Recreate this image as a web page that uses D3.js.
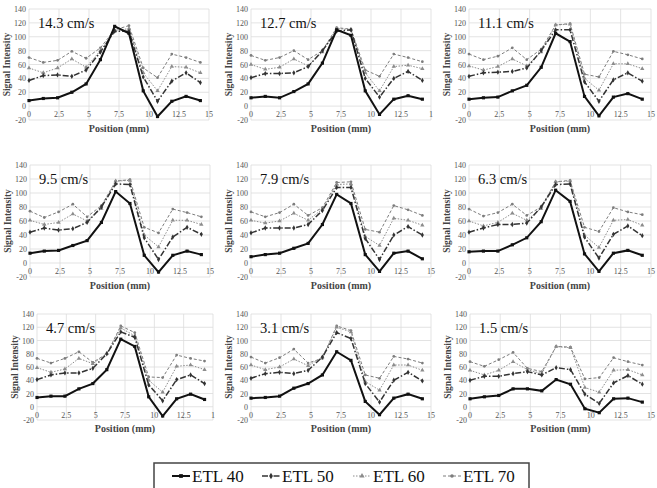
<!DOCTYPE html>
<html>
<head>
<meta charset="utf-8">
<script src="https://cdn.jsdelivr.net/npm/d3@7"></script>
<style>
  body { margin: 0; background: #fff; }
</style>
</head>
<body>
<svg id="chart" width="657" height="488" font-family="Liberation Serif, DejaVu Serif, serif"></svg>
<script>
// x positions (mm) of the 13 samples
var positions = [0, 1.19, 2.38, 3.57, 4.76, 5.95, 7.14, 8.33, 9.52, 10.71, 11.9, 13.09, 14.28];
var xTicks = [0, 2.5, 5, 7.5, 10, 12.5, 15];
var yTicks = [-20, 0, 20, 40, 60, 80, 100, 120, 140];
var seriesNames = ['ETL 40', 'ETL 50', 'ETL 60', 'ETL 70'];
var speeds = ['14.3 cm/s', '12.7 cm/s', '11.1 cm/s', '9.5 cm/s', '7.9 cm/s', '6.3 cm/s', '4.7 cm/s', '3.1 cm/s', '1.5 cm/s'];
var yTitles = ['Signal Intensity', 'Signal Intensity', 'Singal Intensity', 'Signal Intensity', 'Signal Intensity',
    'Signal Intensity', 'Signal Intensity', 'Signal Intensity', 'Signal Intensity'];

// one array per series, one row per panel
var etl40 = [
    [8, 11, 12, 20, 32, 67, 115, 105, 22, -15, 7, 14, 8],
    [12, 14, 12, 21, 32, 62, 110, 102, 22, -12, 10, 15, 10],
    [10, 12, 13, 22, 30, 56, 105, 93, 14, -14, 13, 18, 10],
    [14, 17, 18, 25, 32, 58, 102, 85, 11, -13, 11, 17, 12],
    [9, 12, 14, 21, 28, 55, 98, 85, 12, -12, 14, 17, 6],
    [16, 17, 17, 26, 36, 59, 104, 88, 13, -12, 14, 18, 11],
    [14, 16, 16, 27, 35, 56, 102, 91, 15, -14, 12, 19, 11],
    [13, 14, 16, 28, 35, 48, 83, 70, 8, -12, 13, 19, 12],
    [12, 15, 17, 27, 27, 24, 41, 34, -3, -9, 12, 13, 7]
];
var etl50 = [
    [37, 44, 45, 43, 52, 78, 108, 108, 42, 7, 36, 48, 34],
    [41, 47, 47, 48, 57, 80, 108, 110, 40, 13, 40, 50, 37],
    [43, 48, 49, 50, 55, 80, 110, 110, 35, 7, 38, 48, 36],
    [44, 50, 47, 49, 58, 80, 113, 112, 36, 5, 37, 51, 41],
    [43, 50, 50, 50, 55, 75, 108, 108, 35, 5, 40, 52, 40],
    [44, 50, 55, 55, 57, 80, 112, 113, 37, 7, 41, 53, 39],
    [41, 48, 51, 51, 58, 80, 113, 105, 33, 9, 41, 48, 35],
    [43, 50, 52, 50, 55, 75, 112, 103, 35, 7, 40, 52, 39],
    [40, 46, 46, 50, 53, 48, 59, 56, 19, 5, 36, 47, 34]
];
var etl60 = [
    [55, 48, 55, 68, 56, 80, 108, 112, 48, 22, 57, 56, 48],
    [60, 53, 56, 68, 58, 78, 112, 110, 48, 22, 57, 59, 54],
    [58, 52, 57, 68, 58, 78, 117, 118, 40, 23, 61, 61, 54],
    [61, 55, 58, 70, 60, 78, 117, 118, 40, 23, 61, 61, 55],
    [61, 57, 60, 71, 61, 77, 112, 113, 38, 25, 64, 61, 54],
    [60, 53, 58, 71, 61, 78, 116, 117, 40, 22, 61, 62, 54],
    [59, 52, 57, 73, 65, 80, 119, 107, 40, 22, 61, 63, 56],
    [63, 56, 60, 72, 62, 75, 120, 113, 38, 25, 63, 63, 55],
    [55, 48, 55, 68, 56, 50, 91, 89, 29, 22, 55, 56, 48]
];
var etl70 = [
    [70, 63, 66, 79, 69, 84, 110, 116, 55, 41, 75, 70, 63],
    [73, 66, 70, 80, 67, 80, 113, 111, 52, 43, 75, 70, 64],
    [75, 67, 72, 84, 67, 82, 117, 119, 46, 42, 79, 74, 68],
    [74, 65, 73, 84, 66, 82, 117, 119, 51, 43, 77, 72, 66],
    [73, 66, 72, 84, 68, 79, 115, 116, 48, 44, 82, 76, 68],
    [77, 67, 72, 84, 68, 80, 116, 118, 51, 45, 79, 73, 69],
    [73, 66, 73, 83, 67, 80, 122, 112, 45, 44, 78, 73, 69],
    [75, 66, 74, 87, 66, 73, 122, 115, 48, 43, 76, 72, 66],
    [68, 61, 71, 82, 58, 53, 91, 90, 42, 44, 74, 68, 63]
];
var seriesData = [etl40, etl50, etl60, etl70];

// plot-area frames for each panel [x0, x1, y0(top), y1(bottom)]
var frames = [
    [29, 209, 9, 120], [251, 431, 9, 120], [469, 651, 9, 120],
    [30, 210, 165, 277], [251, 431, 165, 277], [469, 651, 165, 277],
    [37, 213, 314, 420], [251, 431, 314, 420], [470, 651, 314, 420]
];
// panels whose last x label was clipped to "1" in the original
var clippedLast = [1, 6];

var styles = [
    {color: '#111', width: 2, dash: null, symbol: d3.symbolSquare, size: 10},
    {color: '#333', width: 1.5, dash: '6,2,1.5,2', symbol: d3.symbolDiamond, size: 8},
    {color: '#8c8c8c', width: 1, dash: '1.5,1.5', symbol: d3.symbolTriangle, size: 8},
    {color: '#7d7d7d', width: 1, dash: '3,2', symbol: d3.symbolCircle, size: 6}
];

var serif = "'Liberation Serif', 'DejaVu Serif', serif";
var svg = d3.select('#chart');

frames.forEach(function (f, p) {
    var x = d3.scaleLinear().domain([0, 15]).range([f[0], f[1]]);
    var y = d3.scaleLinear().domain([-20, 140]).range([f[3], f[2]]);
    var g = svg.append('g');

    // grid
    g.selectAll('.hg').data(yTicks).enter().append('line')
        .attr('x1', f[0]).attr('x2', f[1])
        .attr('y1', function (d) { return y(d) }).attr('y2', function (d) { return y(d) })
        .style('stroke', '#dcdcdc').style('stroke-width', 0.8);
    g.selectAll('.vg').data(xTicks).enter().append('line')
        .attr('x1', function (d) { return x(d) }).attr('x2', function (d) { return x(d) })
        .attr('y1', f[2]).attr('y2', f[3])
        .style('stroke', '#dcdcdc').style('stroke-width', 0.8);

    // tick labels
    g.selectAll('.yl').data(yTicks).enter().append('text')
        .attr('x', f[0] - 3).attr('y', function (d) { return y(d) + 3 })
        .attr('text-anchor', 'end')
        .style('font-family', serif)
        .style('font-size', '8px').style('fill', '#555')
        .text(function (d) { return d });
    g.selectAll('.xl').data(xTicks).enter().append('text')
        .attr('x', function (d) { return x(d) }).attr('y', y(0) + 11)
        .attr('text-anchor', 'middle')
        .style('font-family', serif)
        .style('font-size', '8px').style('fill', '#555')
        .text(function (d) {
            if (d == 15 && clippedLast.indexOf(p) >= 0) return '1';
            return d
        });

    // axis titles
    g.append('text')
        .attr('x', (f[0] + f[1]) / 2).attr('y', f[3] + 12)
        .attr('text-anchor', 'middle')
        .style('font-family', serif)
        .style('font-size', '10px').style('font-weight', 'bold').style('fill', '#444')
        .text('Position (mm)');
    g.append('text')
        .attr('transform', 'translate(' + (f[0] - 19) + ',' + ((f[2] + f[3]) / 2) + ') rotate(-90)')
        .attr('text-anchor', 'middle')
        .style('font-family', serif)
        .style('font-size', '9.5px').style('font-weight', 'bold').style('fill', '#444')
        .text(yTitles[p]);

    // series
    var line = d3.line()
        .x(function (d, i) { return x(positions[i]) })
        .y(function (d) { return y(d) });
    [3, 2, 1, 0].forEach(function (s) {
        var st = styles[s];
        var vals = seriesData[s][p];
        g.append('path').datum(vals)
            .attr('d', line)
            .style('fill', 'none')
            .style('stroke', st.color)
            .style('stroke-width', st.width)
            .style('stroke-dasharray', st.dash);
        g.selectAll('.m' + s).data(vals).enter().append('path')
            .attr('transform', function (d, i) { return 'translate(' + x(positions[i]) + ',' + y(d) + ')' })
            .attr('d', d3.symbol().type(st.symbol).size(st.size))
            .style('fill', st.color);
    });

    // speed label
    g.append('text')
        .attr('x', f[0] + 9).attr('y', f[2] + 19)
        .style('font-family', serif)
        .style('font-size', '14.5px').style('fill', '#111')
        .text(speeds[p]);
});

// legend
var leg = svg.append('g');
leg.append('rect')
    .attr('x', 154).attr('y', 463).attr('width', 375).attr('height', 40)
    .style('fill', '#fff').style('stroke', '#444').style('stroke-width', 1.5);
var legX = [172, 262, 353, 443];
seriesNames.forEach(function (name, s) {
    var st = styles[s];
    leg.append('line')
        .attr('x1', legX[s]).attr('x2', legX[s] + 18)
        .attr('y1', 476).attr('y2', 476)
        .style('stroke', st.color).style('stroke-width', st.width)
        .style('stroke-dasharray', st.dash);
    leg.append('path')
        .attr('transform', 'translate(' + (legX[s] + 9) + ',476)')
        .attr('d', d3.symbol().type(st.symbol).size(st.size + 4))
        .style('fill', st.color);
    leg.append('text')
        .attr('x', legX[s] + 20).attr('y', 482)
        .style('font-family', serif)
        .style('font-size', '17px').style('fill', '#111')
        .text(name);
});
</script>
</body>
</html>
